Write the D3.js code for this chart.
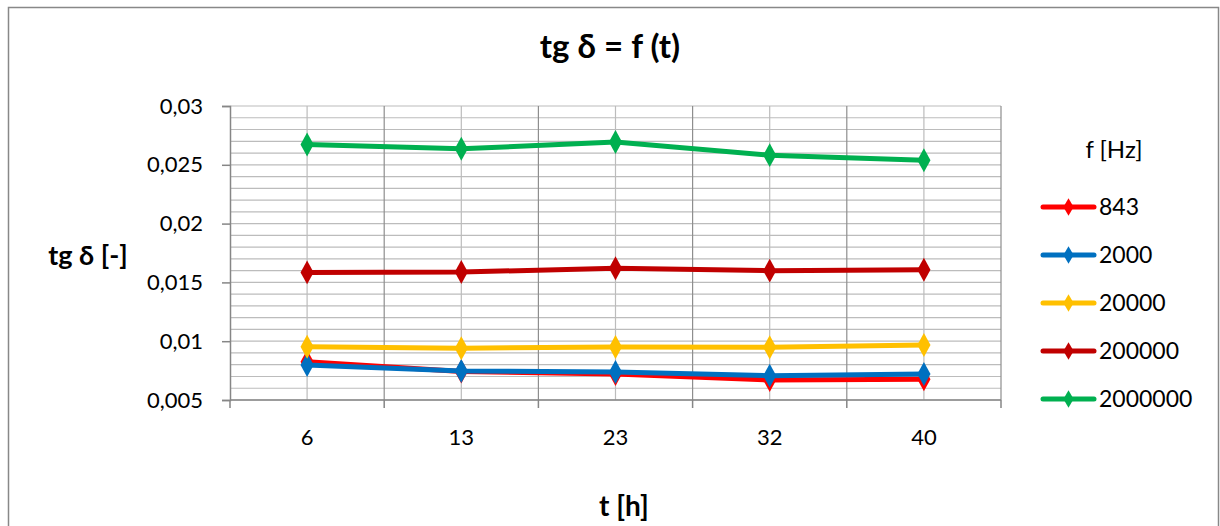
<!DOCTYPE html>
<html><head><meta charset="utf-8">
<script src="https://cdn.jsdelivr.net/npm/d3@7"></script>
<style>
html,body{margin:0;padding:0;background:#fff;}
svg{display:block;font-family:Lato,"Open Sans",sans-serif;}
</style></head><body>
<svg id="c" width="1220" height="526"></svg>
<script>
const categories = ["6", "13", "23", "32", "40"];
const seriesNames = ["843", "2000", "20000", "200000", "2000000"];
const s843 = [0.00826, 0.00742, 0.00721, 0.00670, 0.00676];
const s2000 = [0.00798, 0.00747, 0.00738, 0.00707, 0.00721];
const s20000 = [0.00953, 0.00940, 0.00951, 0.00948, 0.00968];
const s200000 = [0.01585, 0.01588, 0.01620, 0.01600, 0.01608];
const s2000000 = [0.02672, 0.02636, 0.02694, 0.02582, 0.02538];
const yTicks = [0.005, 0.01, 0.015, 0.02, 0.025, 0.03];
const yTickLabels = ["0,005", "0,01", "0,015", "0,02", "0,025", "0,03"];
const colors = ["#FF0000", "#0070C0", "#FFC000", "#C00000", "#00B050"];
const seriesValues = [s843, s2000, s20000, s200000, s2000000];

const svg = d3.select("#c");
const L = 230, R = 1001, T = 106, B = 400;

// outer border
svg.append("rect").attr("x", 8.5).attr("y", 7.5).attr("width", 1210).attr("height", 530)
  .attr("fill", "none").attr("stroke", "#888").attr("stroke-width", 1.5);

const x = d3.scaleBand().domain(categories).range([L, R]).padding(0);
const y = d3.scaleLinear().domain([0.005, 0.03]).range([B, T]);

// horizontal minor gridlines every 0.001
const minor = d3.range(0, 26).map(i => 0.005 + i * 0.001);
svg.append("g").selectAll("line").data(minor).join("line")
  .attr("x1", L).attr("x2", R)
  .attr("y1", d => y(d)).attr("y2", d => y(d))
  .attr("stroke", "#bcbcbc").attr("stroke-width", 1.2);

// vertical gridlines at category centers (light)
svg.append("g").selectAll("line").data(categories).join("line")
  .attr("x1", d => x(d) + x.bandwidth() / 2).attr("x2", d => x(d) + x.bandwidth() / 2)
  .attr("y1", T).attr("y2", B)
  .attr("stroke", "#bcbcbc").attr("stroke-width", 1.2);

// vertical gridlines at category boundaries (darker)
const bounds = categories.map(c => x(c)).concat([R]);
svg.append("g").selectAll("line").data(bounds.slice(1)).join("line")
  .attr("x1", d => d).attr("x2", d => d)
  .attr("y1", T).attr("y2", B)
  .attr("stroke", "#8e8e8e").attr("stroke-width", 1.2);

// x axis with ticks at boundaries
const xAxisG = svg.append("g").attr("transform", `translate(0,${B})`);
xAxisG.append("line").attr("x1", L).attr("x2", R).attr("y1", 0).attr("y2", 0)
  .attr("stroke", "#868686").attr("stroke-width", 1.5);
xAxisG.selectAll("line.tk").data(bounds).join("line").attr("class", "tk")
  .attr("x1", d => d).attr("x2", d => d).attr("y1", 0).attr("y2", 8)
  .attr("stroke", "#868686").attr("stroke-width", 1.5);
xAxisG.selectAll("text").data(categories).join("text")
  .attr("x", d => x(d) + x.bandwidth() / 2).attr("y", 45)
  .attr("text-anchor", "middle").attr("font-size", 22).attr("fill", "#000")
  .text(d => d);

// y axis
const yAxis = d3.axisLeft(y).tickValues(yTicks).tickSize(8)
  .tickFormat((d, i) => yTickLabels[i]);
const yg = svg.append("g").attr("transform", `translate(${L},0)`).call(yAxis);
yg.select(".domain").attr("stroke", "#868686").attr("stroke-width", 1.5);
yg.selectAll(".tick line").attr("stroke", "#868686").attr("stroke-width", 1.5);
yg.selectAll(".tick text").attr("font-size", 22).attr("fill", "#000")
  .attr("font-family", "Lato, 'Open Sans', sans-serif").attr("x", -27);

// series
seriesValues.forEach((vals, si) => {
  const pts = vals.map((v, i) => [x(categories[i]) + x.bandwidth() / 2, y(v)]);
  svg.append("path").attr("d", d3.line()(pts))
    .attr("fill", "none").attr("stroke", colors[si]).attr("stroke-width", 5)
    .attr("stroke-linejoin", "round").attr("stroke-linecap", "round");
  svg.append("g").selectAll("path").data(pts).join("path")
    .attr("transform", d => `translate(${d[0]},${d[1]}) scale(1,1.05)`)
    .attr("d", d3.symbol().type(d3.symbolDiamond).size(150)())
    .attr("fill", colors[si]);
});

// title
svg.append("text").attr("x", 610).attr("y", 58).attr("text-anchor", "middle")
  .attr("font-size", 33).attr("font-weight", "bold").text("tg δ = f (t)");
// y title
svg.append("text").attr("x", 88).attr("y", 265).attr("text-anchor", "middle")
  .attr("font-size", 27).attr("font-weight", "bold").text("tg δ [-]");
// x title
svg.append("text").attr("x", 624).attr("y", 516).attr("text-anchor", "middle")
  .attr("font-size", 28).attr("font-weight", "bold").text("t [h]");

// legend
svg.append("text").attr("x", 1114).attr("y", 158).attr("text-anchor", "middle")
  .attr("font-size", 24).text("f [Hz]");
const lg = svg.append("g");
seriesNames.forEach((n, i) => {
  const yy = 207 + i * 48;
  lg.append("line").attr("x1", 1043).attr("x2", 1094).attr("y1", yy).attr("y2", yy)
    .attr("stroke", colors[i]).attr("stroke-width", 5).attr("stroke-linecap", "round");
  lg.append("path").attr("transform", `translate(1068.5,${yy})`)
    .attr("d", d3.symbol().type(d3.symbolDiamond).size(90)()).attr("fill", colors[i]);
  lg.append("text").attr("x", 1099).attr("y", yy + 8).attr("font-size", 23).text(n);
});
</script>
</body></html>
